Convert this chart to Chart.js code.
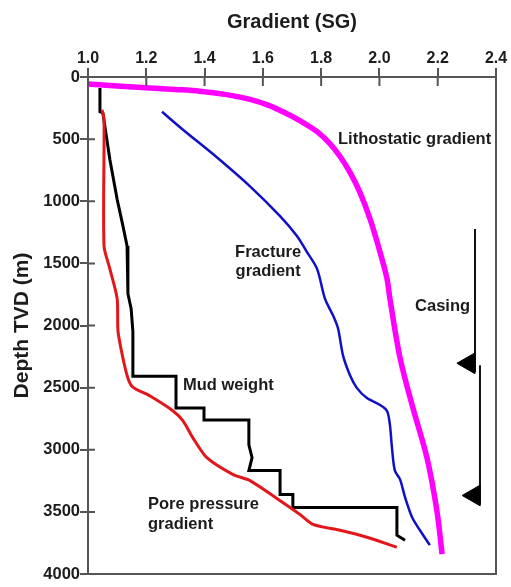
<!DOCTYPE html>
<html>
<head>
<meta charset="utf-8">
<script src="https://cdn.jsdelivr.net/npm/chart.js@4/dist/chart.umd.min.js"></script>
<style>
  html, body { margin: 0; padding: 0; background: #fff; }
  #wrap { width: 511px; height: 587px; }
</style>
</head>
<body>
<div id="wrap"><canvas id="c" width="511" height="587"></canvas></div>
<script>
// ---------- data (gradient in SG, depth in m TVD) ----------
const xTickMin = 1.0, xTickMax = 2.4, xTickStep = 0.2;
const yTickMin = 0, yTickMax = 4000, yTickStep = 500;

const lithoGrad  = [1.000, 1.100, 1.213, 1.300, 1.384, 1.470, 1.556, 1.620, 1.669, 1.727, 1.786, 1.830, 1.865, 1.899, 1.933, 1.968, 2.002, 2.026, 2.036, 2.071, 2.115, 2.163, 2.197, 2.215];
const lithoDepth = [56,    72,    88,    100,   114,   140,   180,   228,   280,   352,   440,   536,   640,   768,   928,   1144,  1408,  1624,  1784,  2264,  2664,  3064,  3488,  3840];

const fracGrad  = [1.254, 1.326, 1.443, 1.556, 1.659, 1.717, 1.751, 1.786, 1.813, 1.841, 1.858, 1.875, 1.899, 1.923, 1.957, 2.002, 2.026, 2.036, 2.043, 2.053, 2.071, 2.088, 2.112, 2.139, 2.173];
const fracDepth = [280,   424,   648,   880,   1120,  1280,  1408,  1544,  1784,  1920,  2024,  2240,  2400,  2504,  2584,  2640,  2688,  2800,  2984,  3168,  3240,  3384,  3544,  3648,  3768];

const mudGrad  = [1.041, 1.041, 1.051, 1.075, 1.100, 1.120, 1.134, 1.137, 1.137, 1.148, 1.154, 1.154, 1.302, 1.302, 1.398, 1.398, 1.552, 1.552, 1.563, 1.552, 1.659, 1.659, 1.703, 1.703, 2.060, 2.060, 2.088];
const mudDepth = [88,    280,   288,   664,   984,   1200,  1360,  1520,  1744,  1864,  2048,  2408,  2408,  2664,  2664,  2760,  2760,  2960,  3064,  3168,  3168,  3360,  3360,  3464,  3464,  3688,  3728];

const poreGrad  = [1.048, 1.055, 1.055, 1.075, 1.100, 1.103, 1.120, 1.137, 1.154, 1.213, 1.292, 1.326, 1.360, 1.408, 1.498, 1.556, 1.648, 1.727, 1.772, 1.865, 1.957, 2.060];
const poreDepth = [264,   344,   1360,  1544,  1784,  2048,  2264,  2424,  2496,  2568,  2688,  2768,  2904,  3064,  3200,  3248,  3392,  3520,  3600,  3648,  3704,  3784];

// casing strings: line position, top, bottom; shoe marker position and depth
const casingX      = [2.328, 2.345];
const casingTop    = [1224, 2320];
const casingBottom = [2376, 3440];
const shoeX        = [2.307, 2.325];
const shoeDepth    = [2304, 3368];

// text annotations (data coordinates)
const noteText  = ['Lithostatic gradient', 'Fracture', 'gradient', 'Casing', 'Mud weight', 'Pore pressure', 'gradient'];
const noteX     = [1.858, 1.618, 1.618, 2.311, 1.326, 1.206, 1.206];
const noteY     = [504,   1416,  1568,  1848,  2480,  3440,  3600];
const noteAlign = ['left', 'center', 'center', 'right', 'left', 'left', 'left'];

// ---------- helpers ----------
const zip = (xs, ys) => xs.map((v, i) => ({x: v, y: ys[i]}));
const casingPts = [];
casingX.forEach((cx, i) => {
  if (i > 0) casingPts.push({x: NaN, y: NaN});
  casingPts.push({x: cx, y: casingTop[i]}, {x: cx, y: casingBottom[i]});
});

const FONT = '"Liberation Sans", Arial, Helvetica, sans-serif';
const AXIS = '#555555';
const TXT = '#1c1c1c';

const framePlugin = {
  id: 'frame',
  afterDraw(chart) {
    const {ctx, chartArea: a, scales: {x, y}} = chart;
    ctx.save();
    ctx.strokeStyle = AXIS;
    ctx.lineWidth = 2;
    ctx.beginPath();
    ctx.moveTo(a.right, a.top - 1);
    ctx.lineTo(a.right, a.bottom);
    ctx.lineTo(a.left - 1, a.bottom);
    x.ticks.forEach(t => {
      const px = x.getPixelForValue(t.value);
      ctx.moveTo(px, a.top);
      ctx.lineTo(px, a.top + 9);
    });
    y.ticks.forEach(t => {
      const py = y.getPixelForValue(t.value);
      ctx.moveTo(a.left, py);
      ctx.lineTo(a.left + 7, py);
    });
    ctx.stroke();

    ctx.fillStyle = TXT;
    ctx.font = 'bold 16.5px ' + FONT;
    ctx.textBaseline = 'middle';
    noteText.forEach((t, i) => {
      ctx.textAlign = noteAlign[i];
      ctx.fillText(t, x.getPixelForValue(noteX[i]), y.getPixelForValue(noteY[i]));
    });
    ctx.restore();
  }
};

new Chart(document.getElementById('c'), {
  type: 'scatter',
  data: {
    datasets: [
      { label: 'Casing shoe', data: zip(shoeX, shoeDepth), showLine: false,
        pointStyle: 'triangle', rotation: 270, pointRadius: 12, pointHoverRadius: 12,
        backgroundColor: '#000', borderColor: '#000', borderWidth: 1 },
      { label: 'Casing', data: casingPts, showLine: true, spanGaps: false,
        borderColor: '#111', borderWidth: 2, pointRadius: 0, tension: 0 },
      { label: 'Pore pressure gradient', data: zip(poreGrad, poreDepth), showLine: true,
        borderColor: '#e3161b', borderWidth: 3, pointRadius: 0, tension: 0.25 },
      { label: 'Mud weight', data: zip(mudGrad, mudDepth), showLine: true,
        borderColor: '#000', borderWidth: 3, pointRadius: 0, tension: 0 },
      { label: 'Fracture gradient', data: zip(fracGrad, fracDepth), showLine: true,
        borderColor: '#1010c8', borderWidth: 2.5, pointRadius: 0, tension: 0.3 },
      { label: 'Lithostatic gradient', data: zip(lithoGrad, lithoDepth), showLine: true,
        borderColor: '#ff00ff', borderWidth: 5.5, pointRadius: 0, tension: 0.35 }
    ]
  },
  options: {
    responsive: false,
    animation: false,
    events: [],
    layout: { padding: { left: 0, top: 0, right: 15, bottom: 10 } },
    plugins: { legend: { display: false }, tooltip: { enabled: false } },
    scales: {
      x: {
        type: 'linear', position: 'top',
        min: xTickMin, max: xTickMax,
        afterFit: s => { s.height = 77; },
        ticks: { stepSize: xTickStep, padding: 0, color: TXT,
                 font: { family: FONT, size: 16, weight: 'bold' },
                 callback: v => Number(v).toFixed(1), maxRotation: 0 },
        grid: { drawOnChartArea: false, drawTicks: true, tickLength: 9, color: AXIS, lineWidth: 2 },
        border: { display: true, color: AXIS, width: 2 },
        title: { display: true, text: 'Gradient (SG)', color: TXT,
                 font: { family: FONT, size: 20, weight: 'bold' }, padding: { top: 10, bottom: 0 } }
      },
      y: {
        type: 'linear', position: 'left', reverse: true,
        min: yTickMin, max: yTickMax,
        afterFit: s => { s.width = 88; },
        ticks: { stepSize: yTickStep, padding: 0, color: TXT,
                 font: { family: FONT, size: 16.5, weight: 'bold' },
                 callback: v => String(Math.round(v)) },
        grid: { drawOnChartArea: false, drawTicks: true, tickLength: 8, color: AXIS, lineWidth: 2 },
        border: { display: true, color: AXIS, width: 2 },
        title: { display: true, text: 'Depth TVD (m)', color: TXT,
                 font: { family: FONT, size: 21, weight: 'bold' }, padding: { top: 10, bottom: 0 } }
      }
    }
  },
  plugins: [framePlugin]
});
</script>
</body>
</html>
